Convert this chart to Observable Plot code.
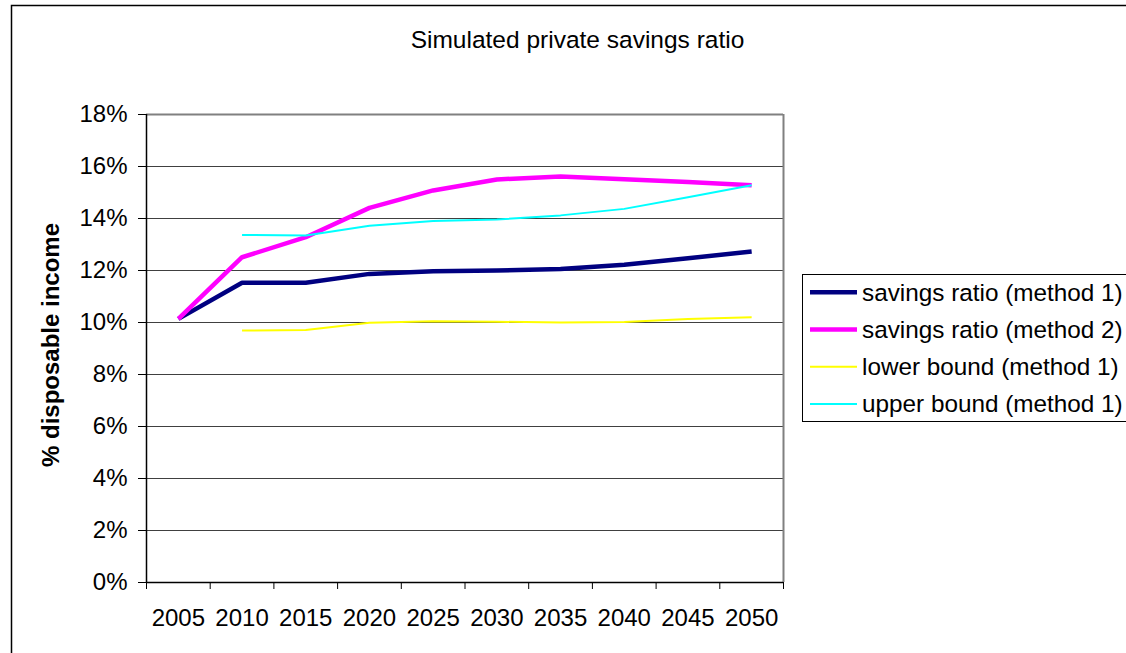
<!DOCTYPE html>
<html><head><meta charset="utf-8">
<script src="https://cdn.jsdelivr.net/npm/d3@7"></script>
<script src="https://cdn.jsdelivr.net/npm/@observablehq/plot@0.6"></script>
<style>body{margin:0;background:#fff;} svg{display:block}</style>
</head><body><div id="chart"></div>
<script>
const years = [2005, 2010, 2015, 2020, 2025, 2030, 2035, 2040, 2045, 2050];
const method1 = [10.14, 11.53, 11.53, 11.87, 11.97, 12.0, 12.06, 12.22, 12.47, 12.73];
const method2 = [10.14, 12.51, 13.28, 14.41, 15.08, 15.5, 15.62, 15.51, 15.4, 15.28];
const lower1 = [null, 9.69, 9.71, 9.99, 10.05, 10.03, 10.0, 10.02, 10.13, 10.2];
const upper1 = [null, 13.37, 13.35, 13.72, 13.9, 13.96, 14.12, 14.37, 14.82, 15.28];
const seriesNames = ["savings ratio (method 1)", "savings ratio (method 2)", "lower bound (method 1)", "upper bound (method 1)"];
const seriesValues = [method1, method2, lower1, upper1];
const seriesColors = ["#000080", "#FF00FF", "#FFFF00", "#00FFFF"];
const seriesWidths = [4.5, 4.5, 2, 2];
const yTicks = [0, 2, 4, 6, 8, 10, 12, 14, 16, 18];
const titleText = "Simulated private savings ratio";
const yLabel = "% disposable income";

const FONT = "'Liberation Sans', Arial, sans-serif";
const xMin = years[0] - 2.5, xMax = years[years.length - 1] + 2.5;
const boundaries = d3.range(xMin, xMax + 0.1, 5);

const lineMarks = seriesValues.map((vals, i) =>
  Plot.lineY(years.map((yr, j) => ({year: yr, value: vals[j]})), {
    x: "year", y: "value", stroke: seriesColors[i], strokeWidth: seriesWidths[i],
    strokeLinejoin: "round", strokeLinecap: "butt"
  })
);

const chart = Plot.plot({
  width: 1126, height: 653,
  marginLeft: 146, marginRight: 343, marginTop: 114, marginBottom: 71,
  style: {fontFamily: FONT, fontSize: "24px", background: "white", color: "black", overflow: "visible"},
  x: {domain: [xMin, xMax], axis: null},
  y: {domain: [0, 18], axis: null},
  marks: [
    Plot.ruleY(yTicks.filter(d => d > 0 && d < 18), {stroke: "#404040", strokeWidth: 1}),
    Plot.ruleY([18], {stroke: "#808080", strokeWidth: 2}),
    Plot.ruleX([xMax], {stroke: "#808080", strokeWidth: 2}),
    ...lineMarks,
    Plot.ruleX([xMin], {stroke: "black", strokeWidth: 1.5}),
    Plot.ruleY([0], {stroke: "black", strokeWidth: 1.5}),
    Plot.axisY({ticks: yTicks, tickSize: 8, tickPadding: 11, tickFormat: d => d + "%", fontSize: 24, label: null}),
    Plot.axisX({ticks: boundaries, tickSize: 7, tickFormat: () => "", label: null}),
    Plot.axisX({ticks: years, tickSize: 0, tickPadding: 26, tickFormat: d => String(d), fontSize: 24, label: null})
  ]
});
document.getElementById("chart").appendChild(chart);

const svg = d3.select(chart);
// outer chart border
svg.append("rect").attr("x", 11.5).attr("y", 5.5).attr("width", 1130).attr("height", 660)
  .attr("fill", "none").attr("stroke", "black").attr("stroke-width", 1.5);
// title
svg.append("text").attr("x", 577.5).attr("y", 48).attr("text-anchor", "middle")
  .attr("font-family", FONT).attr("font-size", 24.5).attr("fill", "black").text(titleText);
// y label
svg.append("text").attr("transform", "translate(58.5,345) rotate(-90)").attr("text-anchor", "middle")
  .attr("font-family", FONT).attr("font-size", 24).attr("font-weight", "bold").attr("fill", "black").text(yLabel);
// legend
const lg = svg.append("g");
lg.append("rect").attr("x", 802.5).attr("y", 274.5).attr("width", 340).attr("height", 147)
  .attr("fill", "white").attr("stroke", "black").attr("stroke-width", 1);
seriesNames.forEach((name, i) => {
  const cy = 292.3 + i * 37.2;
  lg.append("line").attr("x1", 810).attr("x2", 857).attr("y1", cy).attr("y2", cy)
    .attr("stroke", seriesColors[i]).attr("stroke-width", seriesWidths[i]);
  lg.append("text").attr("x", 862).attr("y", cy + 8.4).attr("text-anchor", "start").attr("font-family", FONT)
    .attr("font-size", 24.3).attr("fill", "black").text(name);
});
</script>
</body></html>
